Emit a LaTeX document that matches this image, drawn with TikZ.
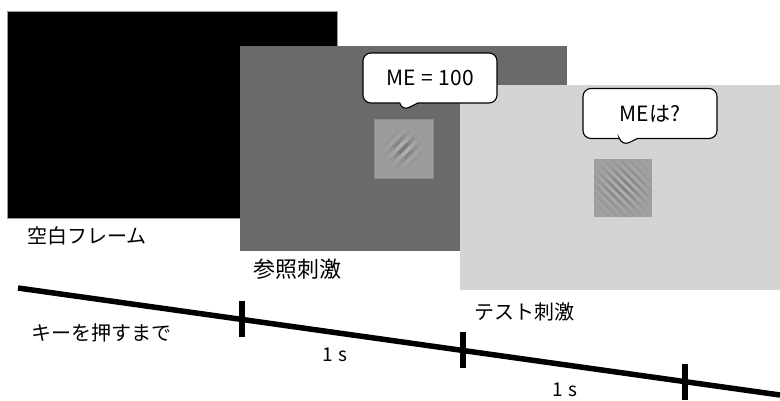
\documentclass[tikz,border=0pt]{standalone}
\usepackage{fontspec}
\setmainfont{Noto Sans CJK JP}
\usepackage{tikz}
\usetikzlibrary{positioning,calc,shapes.callouts}

\definecolor{refgray}{RGB}{106,106,106}
\definecolor{testgray}{RGB}{212,212,212}
\definecolor{patchA}{RGB}{156,156,156}
\definecolor{patchB}{RGB}{160,160,160}

% grating under a gaussian window: centre x, centre y, angle, half period, half count, sigma, contrast
\newcommand{\gaborpatch}[7]{%
  \foreach \gi in {-#5,...,#5}{
    \foreach \gj in {-#5,...,#5}{
      \pgfmathsetmacro{\gpos}{\gi*#4}
      \pgfmathsetmacro{\gtan}{\gj*#4-#4/2}
      \pgfmathsetmacro{\gop}{#7*exp(-(\gpos*\gpos+\gj*#4*\gj*#4)/(2*#6*#6))}
      \pgfmathtruncatemacro{\godd}{mod(abs(\gi),2)}
      \ifnum\godd=0 \def\gcol{black}\else\def\gcol{white}\fi
      \draw[line width=#4pt, draw=\gcol, draw opacity=\gop]
        ($(#1,#2)+(#3:\gtan)+(#3+90:\gpos)$) -- ++(#3:#4);
    }
  }
}
\newcommand{\gap}{\hspace{0.28em}}

\begin{document}
\begin{tikzpicture}[x=1pt, y=-1pt,
    frame/.style={anchor=north west, inner sep=0pt, outer sep=0pt},
    caption/.style={anchor=west, inner sep=0pt, font=\fontsize{20}{24}\selectfont},
    timing/.style={inner sep=0pt, font=\fontsize{19}{23}\selectfont},
    bubble/.style={rectangle callout, draw, fill=white, line width=1.1pt,
        rounded corners=8pt, callout pointer width=18pt, inner sep=0pt,
        minimum width=134pt, minimum height=50pt, font=\fontsize{21}{24}\selectfont},
    tick/.style={line width=6pt}]

    \useasboundingbox (0,0) rectangle (780,400);

    % the three frames
    \node [frame, fill=black, draw=black!40, line width=0.6pt,
        minimum width=330pt, minimum height=207pt] (blank) at (7,11) {};
    \node [frame, fill=refgray, minimum width=327pt, minimum height=205pt] (ref) at (240,46) {};
    \node [frame, fill=testgray, minimum width=320pt, minimum height=205pt] (test) at (460,85) {};

    % stimuli
    \node [frame, fill=patchA, draw=black!45, line width=0.4pt,
        minimum width=59pt, minimum height=59pt] (gaborA) at (374,119) {};
    \begin{scope}
        \clip (gaborA.north west) rectangle (gaborA.south east);
        \gaborpatch{403.5}{148.5}{-45}{4}{6}{8}{0.22}
    \end{scope}
    \node [frame, fill=patchB, minimum width=58pt, minimum height=58pt] (gaborB) at (594,159) {};
    \begin{scope}
        \clip (gaborB.north west) rectangle (gaborB.south east);
        \gaborpatch{623}{188}{45}{3}{12}{14}{0.18}
    \end{scope}

    \coordinate (leadA) at (402,111);
    \coordinate (leadB) at (622,146);
    \node [bubble, callout absolute pointer={(leadA)}] (sayA) at (430,78) {ME\gap=\gap100};
    \node [bubble, callout absolute pointer={(leadB)}] (sayB) at (650,113.5) {MEは?};

    \node [caption] (blanklbl) at (27,236) {空白フレーム};
    \node [caption, font=\fontsize{22}{26}\selectfont] (reflbl) at (253,269) {参照刺激};
    \node [caption] (testlbl) at (474,312) {テスト刺激};

    % time axis
    \coordinate (t0) at (18,288);
    \coordinate (t1) at (780,395);
    \draw [line width=5.5pt] (t0) -- (t1)
        coordinate[pos=0.294] (k1)
        coordinate[pos=0.584] (k2)
        coordinate[pos=0.875] (k3);
    \foreach \k in {k1,k2,k3}
        \draw [tick] ($(\k)+(0,-18)$) -- ($(\k)+(0,18)$);

    \node [caption] (waitlbl) at (31,333) {キーを押すまで};
    \node [timing] (durA) at (335,355) {1\gap s};
    \node [timing] (durB) at (565,390) {1\gap s};
\end{tikzpicture}
\end{document}
